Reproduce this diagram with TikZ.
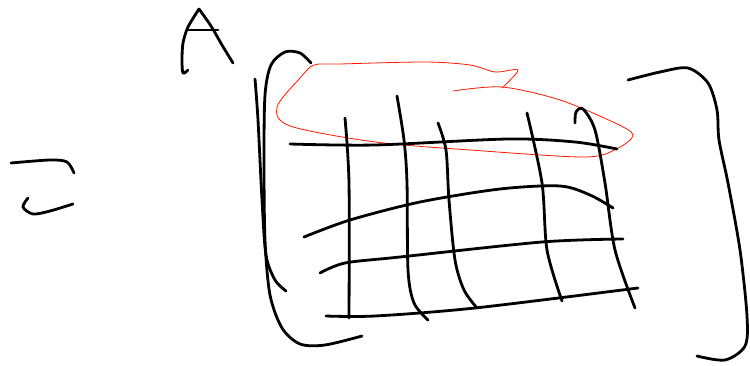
\documentclass[tikz,border=0pt]{standalone}
\begin{document}
\begin{tikzpicture}[x=1pt,y=-1pt,
  ink/.style={line width=2.8pt,line cap=round,line join=round,black},
  redink/.style={line width=0.8pt,line cap=round,line join=round,red!80!orange}]
\useasboundingbox (0,0) rectangle (750,366);
% "=" sign-like strokes at left
\draw[ink] plot[smooth] coordinates {(11,163) (50,160) (67,162) (74,173)};
\draw[ink] plot[smooth] coordinates {(28,198) (23,207) (33,214) (50,211) (73,204)};
% letter A
\draw[ink] plot[smooth] coordinates {(188,70) (183,73) (182,60) (183,43) (188,27) (199,9)};
\draw[ink] plot[smooth] coordinates {(199,9) (211,26) (222,45) (233,63)};
\draw[ink] (188,30) -- (218,30);
% left bracket
\draw[ink] plot[smooth] coordinates {(255,79) (258,120) (262,200) (266,255) (275,280) (286,291)};
\draw[ink] plot[smooth] coordinates {(311,63) (300,53) (285,52) (271,65) (265,95) (264,160) (265,240) (270,295) (282,328) (300,344) (325,345) (362,336)};
% red loop
\draw[redink] plot[smooth] coordinates {(453,91) (502,87) (560,100) (615,123) (633,135) (618,148) (585,157) (470,150) (375,142) (290,126) (277,107) (300,78) (314,65) (340,64) (425,62) (470,65) (495,72) (518,70) (502,88)};
% horizontal grid lines
\draw[ink] plot[smooth] coordinates {(290,144) (375,145) (508,139) (575,142) (617,149)};
\draw[ink] plot[smooth] coordinates {(304,237) (350,220) (420,202) (500,189) (560,186) (590,195) (613,208)};
\draw[ink] plot[smooth] coordinates {(320,273) (345,263) (400,257) (542,242) (623,239)};
\draw[ink] plot[smooth] coordinates {(326,316) (375,316) (475,308) (638,288)};
% vertical grid lines
\draw[ink] plot[smooth] coordinates {(345,118) (349,183) (349,318)};
\draw[ink] plot[smooth] coordinates {(397,96) (404,140) (407,183) (408,270) (414,303) (428,320)};
\draw[ink] plot[smooth] coordinates {(438,123) (446,150) (449,200) (455,260) (464,290) (477,308)};
\draw[ink] plot[smooth] coordinates {(527,113) (542,183) (547,250) (562,301)};
\draw[ink] plot[smooth] coordinates {(575,123) (576,112) (583,109) (595,130) (605,183) (615,250) (635,308)};
% right bracket
\draw[ink] plot[smooth] coordinates {(628,80) (660,72) (688,68) (708,83) (717,110) (719,140) (728,183) (740,250) (747,316) (745,346) (725,360) (697,356)};
\end{tikzpicture}
\end{document}
